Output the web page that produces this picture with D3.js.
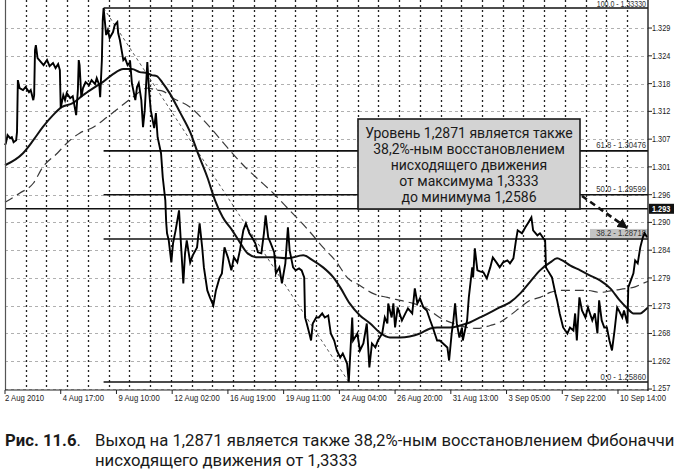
<!DOCTYPE html>
<html><head><meta charset="utf-8">
<script src="https://cdn.jsdelivr.net/npm/d3@7"></script>
<style>
html,body{margin:0;padding:0;background:#fff;}
svg{display:block;}
</style></head>
<body>
<script>
// ---- data ----
const xLabels = ["2 Aug 2010","4 Aug 17:00","9 Aug 10:00","12 Aug 02:00","16 Aug 19:00","19 Aug 11:00","24 Aug 04:00","26 Aug 20:00","31 Aug 13:00","3 Sep 05:00","7 Sep 22:00","10 Sep 14:00"];
const xLabelHours = [0,65,130,195,260,325,390,455,520,585,650,715];
const yTickValues = [1.3293,1.32375,1.3182,1.31266,1.30711,1.30157,1.29602,1.29048,1.28493,1.27939,1.27384,1.2683,1.26275,1.2572];
const yTickLabels = ["1.329","1.324","1.318","1.312","1.307","1.301","1.296","1.290","1.284","1.279","1.273","1.268","1.262","1.257"];
const fibLevels = ["100.0","61.8","50.0","38.2","0.0"];
const fibPrices = [1.33330,1.30476,1.29599,1.28718,1.25860];
const fibHighHour = 115, fibLowHour = 401;
const markerPrice = 1.2932, markerLabel = "1.293";
const price = [[0,1.3059],[1,1.3063],[3,1.3079],[6,1.3073],[8,1.3075],[10,1.3065],[13,1.3069],[14,1.3085],[15,1.3189],[17,1.3173],[21,1.3169],[24,1.3175],[28,1.3165],[30,1.3169],[33,1.3149],[34,1.3159],[35,1.3249],[36,1.3259],[38,1.3233],[42,1.3225],[45,1.3219],[49,1.3229],[52,1.3217],[56,1.3223],[59,1.3213],[62,1.3221],[64,1.3209],[65,1.3133],[68,1.3159],[70,1.3149],[72,1.3163],[76,1.3153],[79,1.3157],[83,1.3119],[85,1.3169],[86,1.3229],[87,1.3219],[89,1.3155],[91,1.3173],[94,1.3185],[98,1.3179],[101,1.3189],[105,1.3181],[107,1.3193],[110,1.3179],[111,1.3155],[113,1.3229],[114,1.3309],[115,1.3333],[118,1.3279],[120,1.3289],[122,1.3273],[126,1.3285],[128,1.3299],[131,1.3305],[132,1.3283],[134,1.3269],[138,1.3229],[140,1.3233],[143,1.3219],[146,1.3225],[148,1.3183],[152,1.3149],[154,1.3175],[156,1.3183],[159,1.3149],[161,1.3095],[163,1.3129],[166,1.3225],[168,1.3169],[170,1.3129],[174,1.3093],[176,1.3123],[178,1.3075],[182,1.3043],[184,1.2995],[187,1.2949],[188,1.2905],[189,1.2883],[191,1.2869],[194,1.2825],[196,1.2863],[199,1.2889],[203,1.2929],[205,1.2869],[208,1.2783],[210,1.2843],[212,1.2869],[216,1.2825],[219,1.2839],[224,1.2855],[227,1.2903],[230,1.2855],[232,1.2815],[236,1.2769],[239,1.2755],[243,1.2739],[246,1.2769],[250,1.2793],[253,1.2803],[256,1.2855],[260,1.2835],[264,1.2809],[267,1.2835],[271,1.2825],[274,1.2849],[278,1.2889],[281,1.2903],[285,1.2883],[288,1.2875],[292,1.2863],[295,1.2845],[299,1.2843],[302,1.2883],[304,1.2919],[307,1.2875],[310,1.2863],[314,1.2845],[316,1.2803],[320,1.2815],[323,1.2783],[327,1.2823],[330,1.2895],[332,1.2849],[336,1.2815],[339,1.2809],[343,1.2813],[346,1.2809],[349,1.2795],[350,1.2715],[352,1.2703],[355,1.2683],[357,1.2669],[359,1.2703],[363,1.2715],[366,1.2715],[370,1.2723],[373,1.2715],[377,1.2719],[380,1.2683],[384,1.2669],[387,1.2649],[391,1.2635],[394,1.2643],[399,1.2623],[401,1.2586],[405,1.2715],[406,1.2669],[411,1.2683],[414,1.2649],[418,1.2663],[422,1.2703],[425,1.2615],[428,1.2663],[432,1.2655],[435,1.2669],[440,1.2683],[443,1.2715],[446,1.2703],[447,1.2743],[451,1.2715],[453,1.2743],[455,1.2695],[458,1.2735],[463,1.2709],[467,1.2723],[470,1.2733],[475,1.2723],[478,1.2773],[481,1.2743],[484,1.2753],[488,1.2735],[492,1.2729],[496,1.2709],[499,1.2695],[504,1.2669],[507,1.2669],[511,1.2663],[516,1.2655],[518,1.2629],[521,1.2683],[523,1.2709],[525,1.2743],[527,1.2703],[530,1.2675],[533,1.2695],[534,1.2669],[539,1.2709],[541,1.2755],[545,1.2815],[546,1.2795],[548,1.2853],[551,1.2809],[554,1.2807],[558,1.2805],[562,1.2793],[566,1.2815],[569,1.2835],[574,1.2823],[577,1.2815],[581,1.2825],[586,1.2829],[589,1.2823],[593,1.2833],[596,1.2869],[598,1.2889],[603,1.2883],[607,1.2895],[610,1.2903],[614,1.2915],[616,1.2889],[621,1.2879],[624,1.2883],[628,1.2873],[630,1.2869],[631,1.2815],[633,1.2809],[638,1.2795],[642,1.2763],[644,1.2749],[647,1.2723],[651,1.2695],[656,1.2683],[659,1.2695],[663,1.2689],[665,1.2723],[667,1.2669],[670,1.2755],[673,1.2729],[677,1.2715],[680,1.2735],[685,1.2709],[688,1.2723],[691,1.2683],[693,1.2749],[696,1.2709],[699,1.2695],[702,1.2695],[705,1.2669],[708,1.2649],[711,1.2689],[714,1.2735],[716,1.2729],[720,1.2715],[722,1.2729],[726,1.2703],[727,1.2775],[730,1.2789],[733,1.2803],[735,1.2829],[738,1.2823],[741,1.2855],[744,1.2875],[746,1.2883],[749,1.2875]];
const maSolid = [[0,1.3019],[21,1.3043],[33,1.3069],[44,1.3095],[56,1.3119],[66,1.3135],[79,1.3143],[91,1.3159],[103,1.3173],[114,1.3185],[126,1.3201],[138,1.3211],[148,1.3211],[157,1.3205],[166,1.3203],[171,1.3199],[177,1.3197],[184,1.3183],[192,1.3163],[204,1.3125],[216,1.3085],[225,1.3043],[236,1.2995],[245,1.2949],[254,1.2915],[265,1.2889],[274,1.2865],[283,1.2843],[295,1.2835],[313,1.2835],[329,1.2833],[348,1.2839],[359,1.2829],[371,1.2815],[383,1.2795],[391,1.2775],[402,1.2743],[414,1.2719],[426,1.2703],[437,1.2685],[449,1.2675],[461,1.2675],[472,1.2677],[484,1.2683],[496,1.2693],[504,1.2695],[519,1.2695],[531,1.2699],[542,1.2705],[554,1.2715],[566,1.2725],[577,1.2735],[589,1.2745],[601,1.2763],[612,1.2785],[624,1.2809],[636,1.2825],[644,1.2833],[650,1.2829],[659,1.2819],[671,1.2809],[682,1.2799],[694,1.2789],[706,1.2773],[717,1.2749],[726,1.2733],[733,1.2723],[741,1.2723],[746,1.2729],[750,1.2735]];
const maDashed = [[0,1.2945],[17,1.2963],[33,1.2983],[44,1.3015],[61,1.3043],[72,1.3063],[87,1.3083],[103,1.3095],[119,1.3115],[134,1.3135],[149,1.3155],[166,1.3173],[177,1.3169],[184,1.3167],[196,1.3153],[216,1.3135],[239,1.3095],[259,1.3055],[278,1.3019],[294,1.2993],[313,1.2963],[332,1.2929],[352,1.2893],[371,1.2855],[387,1.2825],[399,1.2795],[414,1.2779],[429,1.2763],[446,1.2755],[461,1.2749],[476,1.2743],[492,1.2733],[507,1.2715],[523,1.2703],[539,1.2695],[551,1.2693],[566,1.2699],[577,1.2705],[589,1.2719],[601,1.2735],[612,1.2749],[624,1.2755],[636,1.2765],[647,1.2769],[663,1.2769],[679,1.2769],[694,1.2765],[709,1.2769],[726,1.2773],[733,1.2775],[744,1.2783],[750,1.2787]];
const boxLines = ["Уровень 1,2871 является также","38,2%-ным восстановлением","нисходящего движения","от максимума 1,3333","до минимума 1,2586"];
const captionLabel = "Рис. 11.6";
const captionLines = ["Выход на 1,2871 является также 38,2%-ным восстановлением Фибоначчи","нисходящего движения от 1,3333"];
const gridHours = 24.19;

// ---- layout ----
const W = 674, H = 470;
const L = 5, R = 648, T = 0, B = 390;
const x = d3.scaleLinear().domain([0,750]).range([L,R]);
const y = d3.scaleLinear().domain([1.25701,1.33490]).range([B,T]);
const svg = d3.select("body").append("svg").attr("width",W).attr("height",H);
const axisFont = "'Liberation Sans', Arial, sans-serif";
const SX = 0.86;

// horizontal grid
svg.append("g").selectAll("line").data(yTickValues).join("line")
  .attr("x1",L).attr("x2",R).attr("y1",d=>Math.round(y(d))+0.5).attr("y2",d=>Math.round(y(d))+0.5)
  .attr("stroke","#b0b0b0").attr("stroke-width",1).attr("stroke-dasharray","3,3");
// vertical grid
const vgrid = d3.range(gridHours, 750-1, gridHours);
svg.append("g").selectAll("line").data(vgrid).join("line")
  .attr("x1",d=>Math.round(x(d))+0.5).attr("x2",d=>Math.round(x(d))+0.5).attr("y1",T).attr("y2",B)
  .attr("stroke","#222").attr("stroke-width",1.3).attr("stroke-dasharray","2,3");

const line = d3.line().x(d=>x(d[0])).y(d=>y(d[1]));
// dashed MA
svg.append("path").datum(maDashed).attr("d",d3.line().x(d=>x(d[0])).y(d=>y(d[1])).curve(d3.curveMonotoneX))
  .attr("fill","none").attr("stroke","#3a3a3a").attr("stroke-width",1.2).attr("stroke-dasharray","9,5");
// fib trend line
svg.append("line").attr("x1",x(fibHighHour)).attr("y1",y(fibPrices[0])).attr("x2",x(fibLowHour)).attr("y2",y(fibPrices[4]))
  .attr("stroke","#555").attr("stroke-width",1).attr("stroke-dasharray","3,3");
// solid MA
svg.append("path").datum(maSolid).attr("d",d3.line().x(d=>x(d[0])).y(d=>y(d[1])).curve(d3.curveMonotoneX))
  .attr("fill","none").attr("stroke","#111").attr("stroke-width",2);

// fib levels
svg.append("g").selectAll("line").data(fibPrices).join("line")
  .attr("x1",x(fibHighHour)).attr("x2",R).attr("y1",d=>y(d)).attr("y2",d=>y(d))
  .attr("stroke","#111").attr("stroke-width",1.6);
// marker line
svg.append("line").attr("x1",L).attr("x2",R).attr("y1",y(markerPrice)).attr("y2",y(markerPrice))
  .attr("stroke","#111").attr("stroke-width",1.6);

// fib labels
const fl = svg.append("g");
fibLevels.forEach((lv,i)=>{
  const ty = y(fibPrices[i]) - (i===0 ? 1.1 : 2.5);
  if(lv==="38.2"){
    fl.append("rect").attr("x",590).attr("y",y(fibPrices[i])-10).attr("width",R-590).attr("height",9).attr("fill","#c4c4c4");
  }
  fl.append("text").attr("transform",`translate(${R-2},${ty}) scale(${SX},1)`)
    .attr("text-anchor","end").attr("font-family",axisFont).attr("font-size",i===0?8.2:9)
    .attr("fill","#333").text(lv+" - "+fibPrices[i].toFixed(5));
});

// price
svg.append("path").datum(price).attr("d",line)
  .attr("fill","none").attr("stroke","#000").attr("stroke-width",1.9).attr("stroke-linejoin","miter");

// frame
svg.append("line").attr("x1",L+0.5).attr("x2",L+0.5).attr("y1",T).attr("y2",B).attr("stroke","#555").attr("stroke-width",1.2);
svg.append("line").attr("x1",R).attr("x2",R).attr("y1",T).attr("y2",B+1).attr("stroke","#222").attr("stroke-width",1.4);
svg.append("line").attr("x1",L).attr("x2",R).attr("y1",B).attr("y2",B).attr("stroke","#222").attr("stroke-width",1.2);

// right axis
const ra = svg.append("g");
yTickValues.forEach((v,i)=>{
  const yy = y(v);
  ra.append("line").attr("x1",R).attr("x2",R+4).attr("y1",yy).attr("y2",yy).attr("stroke","#222");
  ra.append("text").attr("transform",`translate(${R+4},${yy+(i===yTickValues.length-1?1.8:3)}) scale(${SX},1)`)
    .attr("font-family",axisFont).attr("font-size",8.5).attr("fill","#222").text(yTickLabels[i]);
});
// marker label
const my = y(markerPrice);
ra.append("rect").attr("x",R+1).attr("y",my-5).attr("width",W-R-1).attr("height",10).attr("fill","#111");
ra.append("text").attr("transform",`translate(${R+4},${my+3}) scale(${SX},1)`)
  .attr("font-family",axisFont).attr("font-size",8.5).attr("font-weight","bold").attr("fill","#fff").text(markerLabel);

// bottom axis
const ba = svg.append("g");
xLabelHours.forEach((h,i)=>{
  const xx = x(h);
  ba.append("line").attr("x1",xx).attr("x2",xx).attr("y1",B).attr("y2",B+4).attr("stroke","#222");
  ba.append("text").attr("transform",`translate(${i===0?xx:xx+2},${B+11}) scale(${SX},1)`)
    .attr("font-family",axisFont).attr("font-size",9).attr("fill","#222").text(xLabels[i]);
});

// annotation box
const box = svg.append("g");
box.append("rect").attr("x",358).attr("y",119).attr("width",222).attr("height",90)
  .attr("fill","#d3d3d3").attr("stroke","#1a1a1a").attr("stroke-width",1.6);
boxLines.forEach((s,i)=>{
  box.append("text").attr("x",469).attr("y",138+i*16).attr("text-anchor","middle")
    .attr("font-family","Roboto, 'Noto Sans', sans-serif").attr("font-size",14).attr("fill","#1a1a1a").text(s);
});
// arrow
const defs = svg.append("defs");
defs.append("marker").attr("id","ah").attr("viewBox","0 0 10 10").attr("refX",9).attr("refY",5)
  .attr("markerWidth",4).attr("markerHeight",4).attr("orient","auto")
  .append("path").attr("d","M0,0L10,5L0,10z").attr("fill","#111");
svg.append("line").attr("x1",582).attr("y1",196).attr("x2",627).attr("y2",228)
  .attr("stroke","#111").attr("stroke-width",2.6).attr("stroke-dasharray","6,4").attr("marker-end","url(#ah)");

// caption
const cap = svg.append("g").attr("font-family","Roboto, 'Noto Sans', sans-serif").attr("font-size",16.7).attr("fill","#1a1a1a");
const t1 = cap.append("text").attr("x",5).attr("y",446);
t1.append("tspan").attr("font-weight","bold").text(captionLabel);
t1.append("tspan").text(".");
cap.append("text").attr("x",95).attr("y",446).text(captionLines[0]);
cap.append("text").attr("x",95).attr("y",466).text(captionLines[1]);
</script>
</body></html>
